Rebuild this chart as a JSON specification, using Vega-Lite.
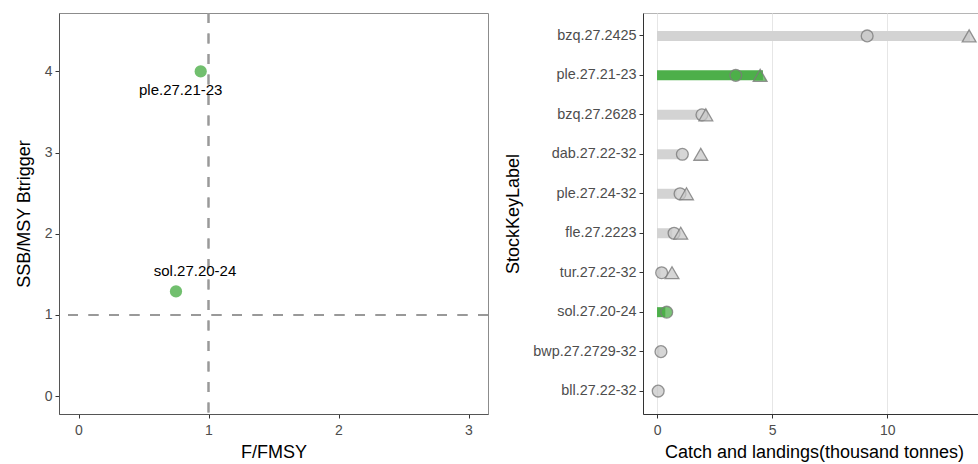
{
  "$schema": "https://vega.github.io/schema/vega-lite/v6.json",
  "background": "white",
  "padding": {"left": 14, "top": 11, "right": 0, "bottom": 5},
  "spacing": 14,
  "config": {
    "font": "Liberation Sans",
    "axis": {
      "labelFont": "Liberation Sans",
      "titleFont": "Liberation Sans",
      "labelColor": "#4d4d4d",
      "labelFontSize": 14,
      "titleFontSize": 18,
      "titleFontWeight": "normal",
      "titleColor": "#000000",
      "tickColor": "#333333",
      "domainColor": "#555555",
      "tickSize": 4,
      "labelPadding": 3,
      "grid": false
    }
  },
  "datasets": {
    "stocks": [
      {"stock": "ple.27.21-23", "F": 0.94, "SSB": 4.0},
      {"stock": "sol.27.20-24", "F": 0.75, "SSB": 1.29}
    ],
    "catches": [
      {"stock": "bzq.27.2425", "bar": 13.6, "circle": 9.13, "triangle": 13.56, "highlight": "no"},
      {"stock": "ple.27.21-23", "bar": 4.6, "circle": 3.42, "triangle": 4.48, "highlight": "yes"},
      {"stock": "bzq.27.2628", "bar": 1.8, "circle": 1.95, "triangle": 2.12, "highlight": "no"},
      {"stock": "dab.27.22-32", "bar": 1.0, "circle": 1.1, "triangle": 1.9, "highlight": "no"},
      {"stock": "ple.27.24-32", "bar": 0.85, "circle": 1.0, "triangle": 1.28, "highlight": "no"},
      {"stock": "fle.27.2223", "bar": 0.66, "circle": 0.74, "triangle": 1.03, "highlight": "no"},
      {"stock": "tur.27.22-32", "bar": 0.15, "circle": 0.2, "triangle": 0.65, "highlight": "no"},
      {"stock": "sol.27.20-24", "bar": 0.36, "circle": 0.42, "triangle": null, "highlight": "yes"},
      {"stock": "bwp.27.2729-32", "bar": 0.1, "circle": 0.17, "triangle": null, "highlight": "no"},
      {"stock": "bll.27.22-32", "bar": 0.02, "circle": 0.05, "triangle": null, "highlight": "no"}
    ]
  },
  "hconcat": [
    {
      "width": 429,
      "height": 401,
      "view": {"stroke": "#8c8c8c", "strokeWidth": 1},
      "data": {"name": "stocks"},
      "layer": [
        {
          "mark": {"type": "rule", "color": "#999999", "strokeWidth": 2, "strokeDash": [10, 10.5]},
          "encoding": {"x": {"datum": 1, "type": "quantitative"}}
        },
        {
          "mark": {"type": "rule", "color": "#999999", "strokeWidth": 2, "strokeDash": [10, 10.5]},
          "encoding": {"y": {"datum": 1, "type": "quantitative"}}
        },
        {
          "mark": {"type": "circle", "size": 150, "color": "#4DAF4A", "opacity": 0.8},
          "encoding": {
            "x": {
              "field": "F", "type": "quantitative",
              "scale": {"domain": [-0.15, 3.15], "nice": false, "zero": false},
              "axis": {"values": [0, 1, 2, 3], "format": "d", "title": "F/FMSY", "labelPadding": 5, "titlePadding": 6}
            },
            "y": {
              "field": "SSB", "type": "quantitative",
              "scale": {"domain": [-0.22, 4.72], "nice": false, "zero": false},
              "axis": {"values": [0, 1, 2, 3, 4], "format": "d", "title": "SSB/MSY Btrigger", "titlePadding": 11}
            }
          }
        },
        {
          "transform": [{"filter": "datum.stock == 'ple.27.21-23'"}],
          "mark": {"type": "text", "fontSize": 15, "color": "#000000", "dx": -20, "dy": 19, "font": "Liberation Sans"},
          "encoding": {
            "x": {"field": "F", "type": "quantitative"},
            "y": {"field": "SSB", "type": "quantitative"},
            "text": {"field": "stock"}
          }
        },
        {
          "transform": [{"filter": "datum.stock == 'sol.27.20-24'"}],
          "mark": {"type": "text", "fontSize": 15, "color": "#000000", "dx": 19, "dy": -20, "font": "Liberation Sans"},
          "encoding": {
            "x": {"field": "F", "type": "quantitative"},
            "y": {"field": "SSB", "type": "quantitative"},
            "text": {"field": "stock"}
          }
        }
      ]
    },
    {
      "width": 342,
      "height": 401,
      "view": {"stroke": "#b5b5b5", "strokeWidth": 1},
      "data": {"name": "catches"},
      "encoding": {
        "y": {
          "field": "stock", "type": "nominal",
          "sort": ["bzq.27.2425", "ple.27.21-23", "bzq.27.2628", "dab.27.22-32", "ple.27.24-32", "fle.27.2223", "tur.27.22-32", "sol.27.20-24", "bwp.27.2729-32", "bll.27.22-32"],
          "scale": {"type": "band", "paddingInner": 0, "paddingOuter": 0.08},
          "axis": {"title": "StockKeyLabel", "labelFontSize": 14.4, "titlePadding": 10, "domainColor": "#333333"}
        }
      },
      "layer": [
        {
          "mark": {"type": "bar", "size": 10},
          "encoding": {
            "x": {
              "field": "bar", "type": "quantitative",
              "scale": {"domain": [-0.61, 14.25], "nice": false, "zero": false},
              "axis": {"values": [0, 5, 10], "grid": true, "gridColor": "#e6e6e6", "gridWidth": 1, "domainColor": "#333333", "title": "Catch and landings(thousand tonnes)", "labelPadding": 5, "titlePadding": 6}
            },
            "x2": {"datum": 0},
            "color": {
              "field": "highlight", "type": "nominal",
              "scale": {"domain": ["yes", "no"], "range": ["#4DAF4A", "#D3D3D3"]},
              "legend": null
            }
          }
        },
        {
          "mark": {"type": "point", "shape": "circle", "size": 140, "filled": true, "fillOpacity": 0.75, "stroke": "#7a7a7a", "strokeOpacity": 0.8, "strokeWidth": 1.3},
          "encoding": {
            "x": {"field": "circle", "type": "quantitative"},
            "fill": {
              "field": "highlight", "type": "nominal",
              "scale": {"domain": ["yes", "no"], "range": ["#4DAF4A", "#c8c8c8"]},
              "legend": null
            }
          }
        },
        {
          "transform": [{"filter": "datum.triangle != null"}],
          "mark": {"type": "point", "shape": "triangle-up", "size": 190, "filled": true, "fillOpacity": 0.75, "stroke": "#7a7a7a", "strokeOpacity": 0.8, "strokeWidth": 1.3},
          "encoding": {
            "x": {"field": "triangle", "type": "quantitative"},
            "fill": {
              "field": "highlight", "type": "nominal",
              "scale": {"domain": ["yes", "no"], "range": ["#4DAF4A", "#c8c8c8"]},
              "legend": null
            }
          }
        }
      ]
    }
  ],
  "resolve": {"scale": {"color": "independent"}}
}
